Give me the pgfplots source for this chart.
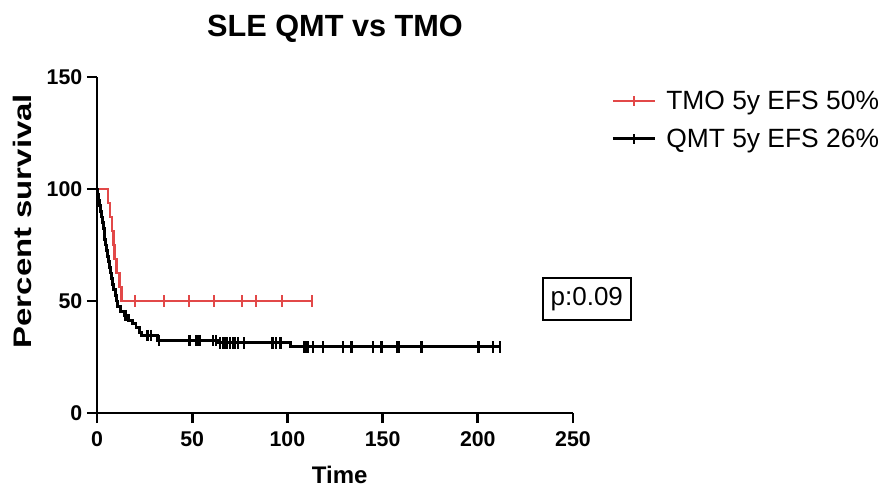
\documentclass[border=0pt]{standalone}
\usepackage{fontspec}
\setmainfont{Liberation Sans}
\usepackage{pgfplots}
\pgfplotsset{compat=1.18}
\definecolor{kmred}{HTML}{E24848}
\begin{document}
\begin{tikzpicture}
\begin{axis}[
  scale only axis,
  width=357pt, height=252pt,
  xmin=0, xmax=250, ymin=0, ymax=150,
  axis x line*=bottom, axis y line*=left,
  every outer x axis line/.append style={line width=2.2pt, -},
  every outer y axis line/.append style={line width=2.2pt, -},
  axis line style={line width=2.2pt, -},
  xtick={0,50,100,150,200,250}, ytick={0,50,100,150},
  tick align=outside, major tick length=7.5pt,
  every tick/.append style={line width=2.2pt, black},
  ticklabel style={font=\fontsize{16}{18}\selectfont\bfseries},
  xticklabel style={yshift=-3pt},
  /pgf/number format/assume math mode=true,
  clip=false,
  title={SLE QMT vs TMO},
  title style={at={(rel axis cs:0.5,1.12)}, anchor=center, font=\fontsize{23}{27}\selectfont\bfseries},
  xlabel={Time},
  xlabel style={at={(rel axis cs:0.51,-0.185)}, anchor=center, font=\fontsize{18}{21}\selectfont\bfseries},
  ylabel={\scalebox{1.3}[1]{Percent survival}},
  ylabel style={at={(rel axis cs:-0.157,0.571)}, anchor=center, rotate=0, font=\fontsize{19}{22}\selectfont\bfseries},
  legend style={at={(rel axis cs:1.08,0.872)}, anchor=west, draw=none, fill=none, inner sep=0pt,
    row sep=9pt, font=\fontsize{19.8}{22}\selectfont, legend cell align=left,
    /tikz/every odd column/.append style={column sep=5pt}},
  legend image code/.code={\draw[#1,mark=none] (0pt,0pt) -- (32pt,0pt); \draw[#1,mark=none,line width=1.6pt] (16pt,-3.5pt) -- (16pt,3.5pt);},
]
% TMO
\addplot[const plot, kmred, line width=2pt, mark=none] coordinates {
(0,100)(5.8,93.75)(6.8,87.5)(7.8,81.25)(8.5,75)(9.2,68.75)(10.4,62.5)(11.8,56.25)(13,50)(113,50)};
\addlegendentry{TMO 5y EFS 50\%}
% QMT
\addplot[const plot, black, line width=2.2pt, mark=none] coordinates {
(0,100)(0.4,97.5)(0.9,95)(1.4,92.5)(1.9,90)(2.4,87.5)(2.9,85)(3.3,82.5)(3.7,80)(4.1,77.5)(4.5,75)(4.9,72.5)(5.4,70)(5.9,67.5)(6.5,65)(7.1,62.5)(7.7,60)(8.3,57.5)(8.9,55)(9.5,52.5)(10.2,50)(11,47.5)(12.5,45.5)(14.5,43.5)(16.5,41.5)(18.5,39.8)(20.5,38)(22.5,36)(23.5,34.5)(32,32.3)(64,31.3)(101.4,29.5)(211.5,29.5)};
\addlegendentry{QMT 5y EFS 26\%}
% censor marks
\addplot[forget plot, only marks, kmred, mark=|, mark size=4.3pt, mark options={line width=1.6pt}] coordinates {
(20,50)(35.2,50)(48.2,50)(61.4,50)(76,50)(83.5,50)(97,50)(112.8,50)};
\addplot[forget plot, only marks, black, mark=|, mark size=4.3pt, mark options={line width=1.8pt}] coordinates {
(15,43.5)(26.5,34.5)(28.5,34.5)(32.5,32.3)(48.5,32.3)(52,32.3)(53,32.3)(54,32.3)(61,32.3)(62.5,32.3)
(64.5,31.3)(66.5,31.3)(68,31.3)(70,31.3)(71.5,31.3)(72.5,31.3)(74,31.3)(77.3,31.3)(92.2,31.3)(94,31.3)(96.4,31.3)
(109,29.5)(110.5,29.5)(113.6,29.5)(118.8,29.5)(129.3,29.5)(133.7,29.5)(145.1,29.5)(149.5,29.5)(157.5,29.5)(158.5,29.5)(170.5,29.5)(200.3,29.5)(208.1,29.5)(211.5,29.5)};
\node[draw=black, line width=1.1pt, minimum width=66pt, minimum height=31.5pt, inner sep=0pt,
  font=\fontsize{19.5}{22}\selectfont] at (rel axis cs:1.029,0.339) {p:0.09};
\end{axis}
\pgfresetboundingbox
\path (-72.75pt,-57.75pt) rectangle (588pt,309.75pt);
\end{tikzpicture}
\end{document}
